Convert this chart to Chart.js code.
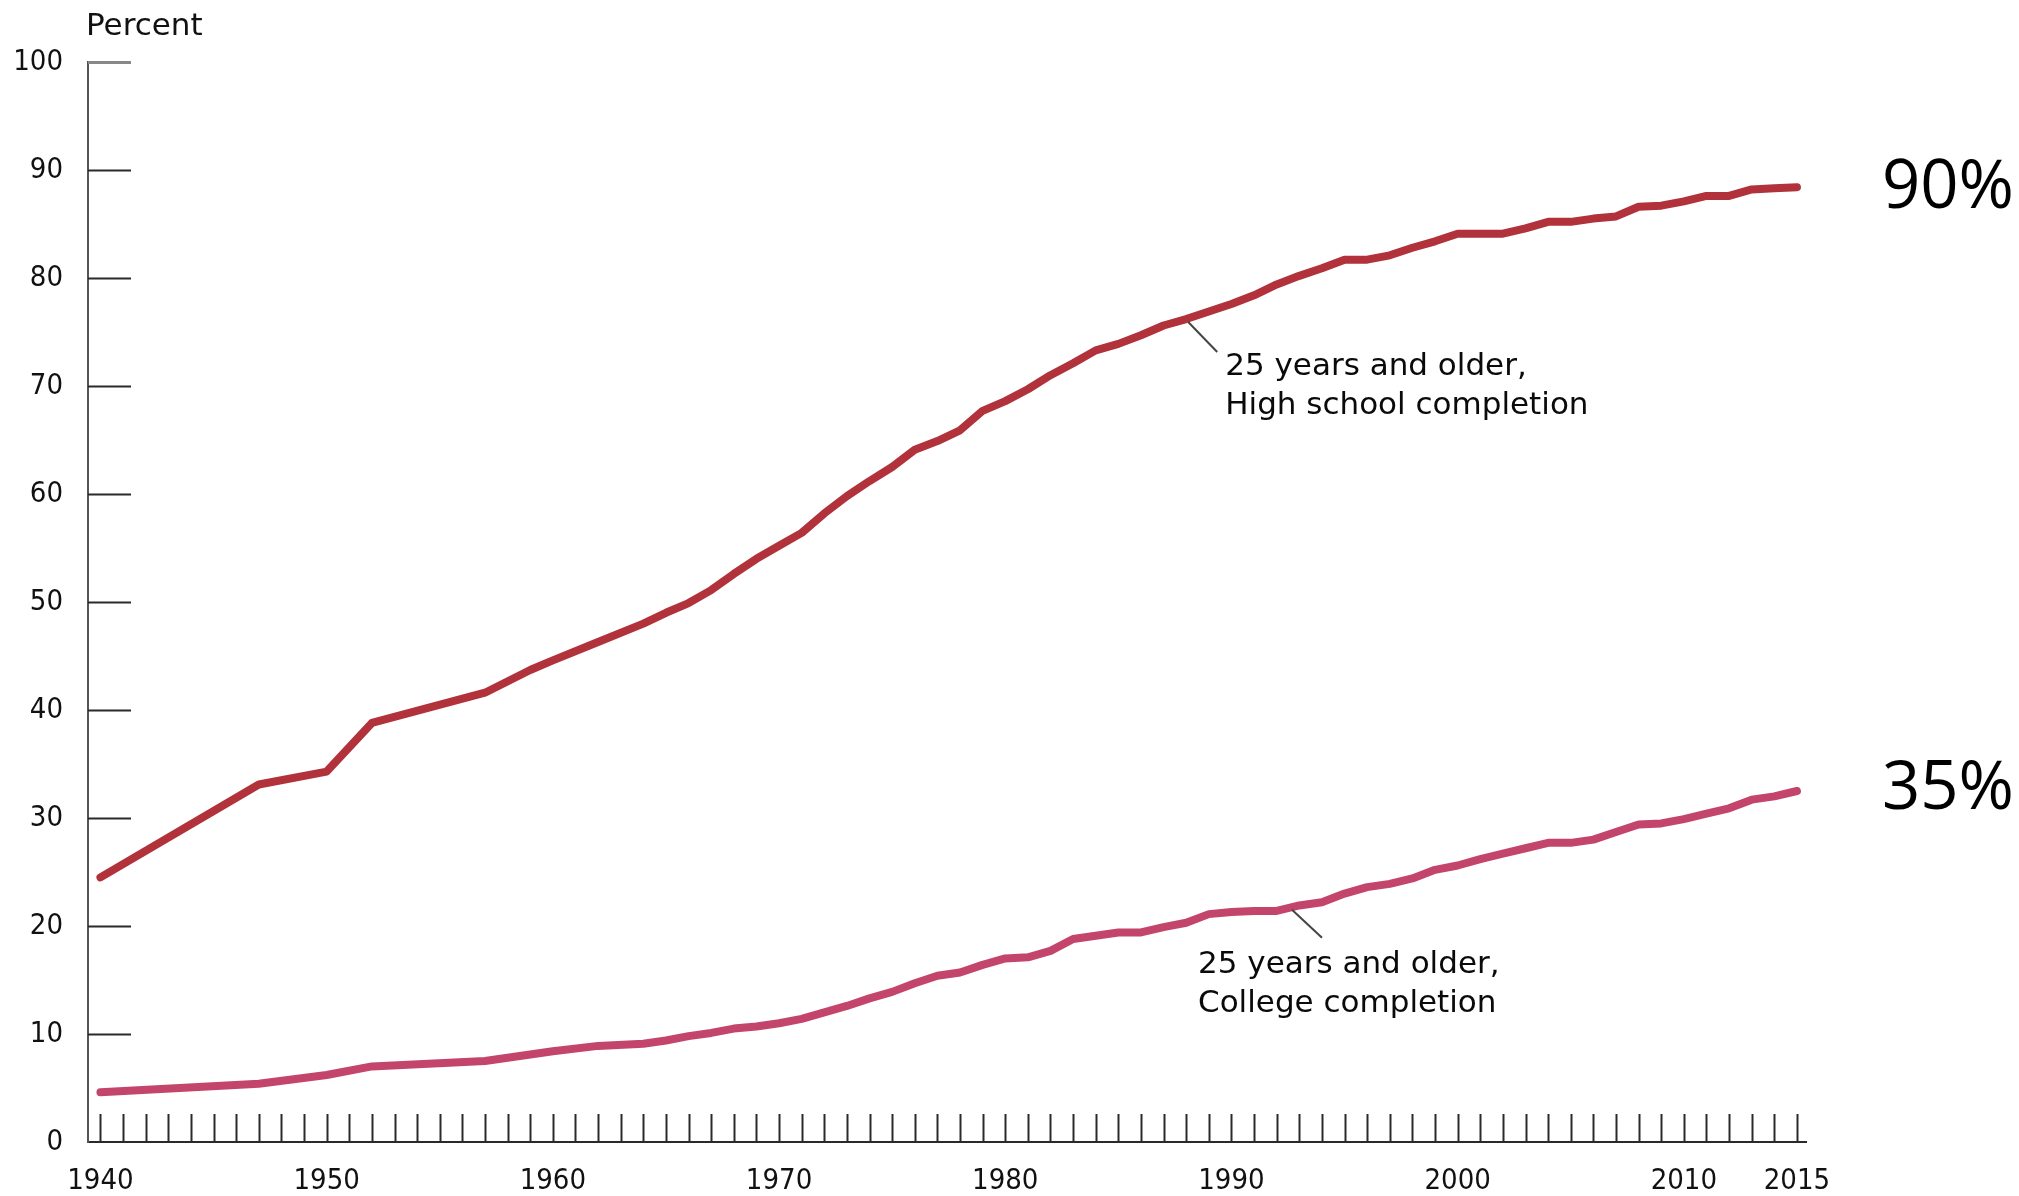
<!DOCTYPE html>
<html>
<head>
<meta charset="utf-8">
<title>Educational attainment, 1940-2015</title>
<script src="https://cdn.jsdelivr.net/npm/chart.js@4.4.1/dist/chart.umd.min.js"></script>
<style>
    html, body { margin: 0; padding: 0; background: #fff; overflow: hidden; }
    #wrap { width: 2019px; height: 1196px; position: relative; }
</style>
</head>
<body>
<div id="wrap"><canvas id="chart" width="2019" height="1196"></canvas></div>
<script>
// Years with survey values (gaps in the 1940s-50s are drawn as straight segments)
const years = [
    1940, 1947, 1950, 1952, 1957, 1959, 1960, 1962, 1964, 1965, 1966, 1967, 1968, 1969,
    1970, 1971, 1972, 1973, 1974, 1975, 1976, 1977, 1978, 1979, 1980, 1981, 1982, 1983,
    1984, 1985, 1986, 1987, 1988, 1989, 1990, 1991, 1992, 1993, 1994, 1995, 1996, 1997,
    1998, 1999, 2000, 2001, 2002, 2003, 2004, 2005, 2006, 2007, 2008, 2009, 2010, 2011,
    2012, 2013, 2014, 2015
];

// 25 years and older, high school completion (percent)
const highSchool = [
    24.5, 33.1, 34.3, 38.8, 41.6, 43.7, 44.6, 46.3, 48.0, 49.0, 49.9, 51.1, 52.6, 54.0,
    55.2, 56.4, 58.2, 59.8, 61.2, 62.5, 64.1, 64.9, 65.9, 67.7, 68.6, 69.7, 71.0, 72.1,
    73.3, 73.9, 74.7, 75.6, 76.2, 76.9, 77.6, 78.4, 79.4, 80.2, 80.9, 81.7, 81.7, 82.1,
    82.8, 83.4, 84.1, 84.1, 84.1, 84.6, 85.2, 85.2, 85.5, 85.7, 86.6, 86.7, 87.1, 87.6,
    87.6, 88.2, 88.3, 88.4
];

// 25 years and older, college completion (percent)
const college = [
    4.6, 5.4, 6.2, 7.0, 7.5, 8.1, 8.4, 8.9, 9.1, 9.4, 9.8, 10.1, 10.5, 10.7,
    11.0, 11.4, 12.0, 12.6, 13.3, 13.9, 14.7, 15.4, 15.7, 16.4, 17.0, 17.1, 17.7, 18.8,
    19.1, 19.4, 19.4, 19.9, 20.3, 21.1, 21.3, 21.4, 21.4, 21.9, 22.2, 23.0, 23.6, 23.9,
    24.4, 25.2, 25.6, 26.2, 26.7, 27.2, 27.7, 27.7, 28.0, 28.7, 29.4, 29.5, 29.9, 30.4,
    30.9, 31.7, 32.0, 32.5
];

// Axis ticks
const tickYears = Array.from({ length: 76 }, (_, i) => 1940 + i); // one mark per year
const labelYears = [1940, 1950, 1960, 1970, 1980, 1990, 2000, 2010, 2015];
const percentTicks = [0, 10, 20, 30, 40, 50, 60, 70, 80, 90, 100];

const HS_COLOR = '#b1323b';
const COLLEGE_COLOR = '#c4456b';
const AXIS_COLOR = '#2a2a2a';
const TICK_FONT = { family: '"DejaVu Sans Condensed", "DejaVu Sans", sans-serif', size: 29 };

const toPoints = (vals) => years.map((y, i) => ({ x: y, y: vals[i] }));

// Inward tick marks, side texts and leader-line notes
const decorations = {
    id: 'decorations',
    afterDraw(chart) {
        const { ctx, chartArea, scales: { x, y } } = chart;
        ctx.save();

        // x ticks pointing up from the axis
        ctx.strokeStyle = AXIS_COLOR;
        ctx.lineWidth = 2;
        tickYears.forEach(yr => {
            const px = Math.round(x.getPixelForValue(yr)) + 0.5;
            ctx.beginPath();
            ctx.moveTo(px, chartArea.bottom);
            ctx.lineTo(px, chartArea.bottom - 28);
            ctx.stroke();
        });

        // y ticks pointing right from the axis
        percentTicks.forEach(v => {
            if (v === 0) return;
            const py = Math.round(y.getPixelForValue(v)) + 0.5;
            ctx.strokeStyle = v === 100 ? '#888' : AXIS_COLOR;
            ctx.lineWidth = v === 100 ? 3 : 2;
            ctx.beginPath();
            ctx.moveTo(chartArea.left, py);
            ctx.lineTo(chartArea.left + 43, py);
            ctx.stroke();
        });

        // axis title
        ctx.fillStyle = '#111';
        ctx.font = '31px "DejaVu Sans", sans-serif';
        ctx.textAlign = 'left';
        ctx.textBaseline = 'alphabetic';
        ctx.fillText('Percent', chartArea.left - 2, 35);

        // leader-line notes, anchored on the series
        const notes = [
            { year: 1988, value: 76.2, lead: [2, 3, 31, 33], text: [39, 56],
              lines: ['25 years and older,', 'High school completion'] },
            { year: 1992.5, value: 21.5, lead: [4, 0, 34, 28], text: [-90, 63],
              lines: ['25 years and older,', 'College completion'] }
        ];
        notes.forEach(n => {
            const ax = x.getPixelForValue(n.year);
            const ay = y.getPixelForValue(n.value);
            ctx.strokeStyle = '#444';
            ctx.lineWidth = 2;
            ctx.beginPath();
            ctx.moveTo(ax + n.lead[0], ay + n.lead[1]);
            ctx.lineTo(ax + n.lead[2], ay + n.lead[3]);
            ctx.stroke();
            ctx.fillStyle = '#0a0a0a';
            ctx.font = '31px "DejaVu Sans", sans-serif';
            n.lines.forEach((t, i) => ctx.fillText(t, ax + n.text[0], ay + n.text[1] + i * 39));
        });

        // big callouts on the right
        ctx.fillStyle = '#000';
        ctx.font = '67px "Open Sans", "Noto Sans", sans-serif';
        ctx.fillText('90%', 1882, 208);
        ctx.fillText('35%', 1882, 809);

        ctx.restore();
    }
};

new Chart(document.getElementById('chart'), {
    type: 'line',
    data: {
        datasets: [
            {
                label: '25 years and older, High school completion',
                data: toPoints(highSchool),
                borderColor: HS_COLOR,
                borderWidth: 8,
                pointRadius: 0,
                tension: 0,
                borderJoinStyle: 'round',
                borderCapStyle: 'round',
                fill: false
            },
            {
                label: '25 years and older, College completion',
                data: toPoints(college),
                borderColor: COLLEGE_COLOR,
                borderWidth: 8,
                pointRadius: 0,
                tension: 0,
                borderJoinStyle: 'round',
                borderCapStyle: 'round',
                fill: false
            }
        ]
    },
    options: {
        responsive: false,
        animation: false,
        devicePixelRatio: 1,
        layout: { padding: { top: 62, right: 213, bottom: 0, left: 0 } },
        plugins: {
            legend: { display: false },
            tooltip: { enabled: false }
        },
        scales: {
            x: {
                type: 'linear',
                min: 1939.45,
                max: 2015.4,
                afterBuildTicks: (scale) => { scale.ticks = tickYears.map(v => ({ value: v })); },
                afterFit: (scale) => { scale.height = 54; },
                grid: { display: false, drawTicks: false },
                border: { display: true, color: AXIS_COLOR, width: 2 },
                ticks: {
                    autoSkip: false,
                    maxRotation: 0,
                    padding: 22,
                    color: '#111',
                    font: TICK_FONT,
                    callback: (v) => labelYears.includes(v) ? String(v) : ''
                }
            },
            y: {
                min: 0,
                max: 100,
                afterBuildTicks: (scale) => { scale.ticks = percentTicks.map(v => ({ value: v })); },
                afterFit: (scale) => { scale.width = 88; },
                grid: { display: false, drawTicks: false },
                border: { display: true, color: '#555', width: 2 },
                ticks: {
                    padding: 25,
                    color: '#111',
                    font: TICK_FONT
                }
            }
        }
    },
    plugins: [decorations]
});
</script>
</body>
</html>
